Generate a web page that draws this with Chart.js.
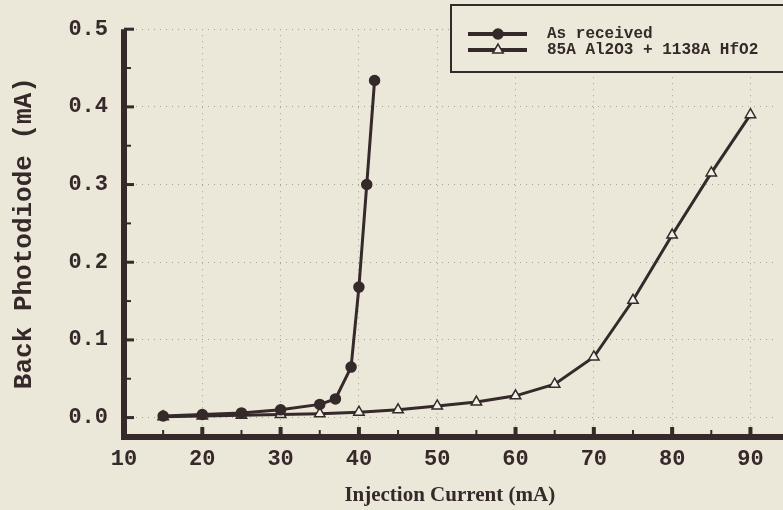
<!DOCTYPE html>
<html>
<head>
<meta charset="utf-8">
<script src="https://cdn.jsdelivr.net/npm/chart.js@4/dist/chart.umd.min.js"></script>
<style>
    html, body {margin: 0; background: #ebe7d9;}
    #wrap {width: 783px; height: 510px;}
</style>
</head>
<body>
<div id="wrap"><canvas id="chart"></canvas></div>
<script>
const currentReceived = [15, 20, 25, 30, 35, 37, 39, 40, 41, 42];
const photoReceived = [0.002, 0.004, 0.006, 0.010, 0.017, 0.024, 0.065, 0.168, 0.300, 0.434];
const currentCoated = [15, 20, 25, 30, 35, 40, 45, 50, 55, 60, 65, 70, 75, 80, 85, 90];
const photoCoated = [0.001, 0.002, 0.003, 0.004, 0.005, 0.007, 0.010, 0.015, 0.020, 0.028, 0.043, 0.078, 0.151, 0.235, 0.315, 0.390];
const xTicks = [10, 20, 30, 40, 50, 60, 70, 80, 90];
const yTicks = [0.0, 0.1, 0.2, 0.3, 0.4, 0.5];
const seriesNames = ['As received', '85A Al2O3 + 1138A HfO2'];

const ink = '#35292a';
const paper = '#f3f0e6';
const mono = '"Liberation Mono", "DejaVu Sans Mono", monospace';

const points = (xs, ys) => xs.map((x, i) => ({x, y: ys[i]}));
const midpoints = list => list.slice(1).map((v, i) => (v + list[i]) / 2);

const styles = [
    {pointStyle: 'circle', radius: 5, fill: ink},
    {pointStyle: 'triangle', radius: 6, fill: paper}
];

const frame = {
    id: 'frame',
    afterDatasetsDraw(chart) {
        const {ctx, chartArea: a, scales: {x, y}} = chart;
        ctx.save();
        ctx.strokeStyle = ink;
        ctx.lineWidth = 6;
        ctx.beginPath();
        ctx.moveTo(a.left, a.top);
        ctx.lineTo(a.left, a.bottom);
        ctx.lineTo(a.right + 10, a.bottom);
        ctx.stroke();

        const tick = (x0, y0, x1, y1, w) => {
            ctx.lineWidth = w;
            ctx.beginPath();
            ctx.moveTo(x0, y0);
            ctx.lineTo(x1, y1);
            ctx.stroke();
        };
        yTicks.forEach(v => { const p = y.getPixelForValue(v); tick(a.left, p, a.left + 10, p, 3); });
        midpoints(yTicks).forEach(v => { const p = y.getPixelForValue(v); tick(a.left, p, a.left + 7, p, 2); });
        xTicks.slice(1).forEach(v => { const p = x.getPixelForValue(v); tick(p, a.bottom, p, a.bottom - 10, 4); });
        midpoints(xTicks).forEach(v => { const p = x.getPixelForValue(v); tick(p, a.bottom, p, a.bottom - 7, 2); });
        ctx.restore();
    },
    afterDraw(chart) {
        const {ctx} = chart;
        ctx.save();
        ctx.fillStyle = '#ece8da';
        ctx.strokeStyle = ink;
        ctx.lineWidth = 2;
        ctx.fillRect(451, 5, 340, 67);
        ctx.strokeRect(451, 5, 340, 67);
        seriesNames.forEach((name, i) => {
            const yy = 34 + i * 16;
            ctx.strokeStyle = ink;
            ctx.lineWidth = 4;
            ctx.beginPath();
            ctx.moveTo(468, yy);
            ctx.lineTo(527, yy);
            ctx.stroke();
            ctx.fillStyle = styles[i].fill;
            ctx.lineWidth = 1.5;
            Chart.helpers.drawPoint(ctx, {pointStyle: styles[i].pointStyle, radius: styles[i].radius, borderWidth: 1.5, rotation: 0}, 498, yy);
            ctx.fillStyle = ink;
            ctx.font = 'bold 16px ' + mono;
            ctx.textBaseline = 'middle';
            ctx.fillText(name, 547, yy);
        });
        ctx.restore();
    }
};

const gridColor = '#a7a295';

new Chart(document.getElementById('chart'), {
    type: 'scatter',
    data: {
        datasets: [
            {label: seriesNames[0], data: points(currentReceived, photoReceived)},
            {label: seriesNames[1], data: points(currentCoated, photoCoated)}
        ].map((d, i) => Object.assign(d, {
            showLine: true,
            borderColor: ink,
            borderWidth: 3,
            pointStyle: styles[i].pointStyle,
            pointRadius: styles[i].radius,
            pointBackgroundColor: styles[i].fill,
            pointBorderColor: ink,
            pointBorderWidth: 1.5
        }))
    },
    options: {
        responsive: true,
        maintainAspectRatio: false,
        animation: false,
        layout: {padding: {top: 14, right: 3, left: 0, bottom: 0}},
        plugins: {legend: {display: false}, tooltip: {enabled: false}},
        scales: {
            x: {
                type: 'linear',
                min: 10,
                max: 93.2,
                afterBuildTicks: scale => { scale.ticks = xTicks.map(value => ({value})); },
                afterFit: scale => { scale.height = 73; },
                grid: {color: gridColor, lineWidth: 1, drawTicks: false},
                border: {display: false, dash: [1, 5]},
                ticks: {padding: 9, color: ink, font: {family: mono, size: 22, weight: 'bold'}},
                title: {
                    display: true,
                    text: 'Injection Current (mA)',
                    color: ink,
                    padding: {top: 0, bottom: 2},
                    font: {family: '"Liberation Serif", serif', size: 21, weight: 'bold'}
                }
            },
            y: {
                min: -0.025,
                max: 0.5,
                afterBuildTicks: scale => { scale.ticks = yTicks.map(value => ({value})); },
                afterFit: scale => { scale.width = 124; },
                grid: {color: gridColor, lineWidth: 1, drawTicks: false},
                border: {display: false, dash: [1, 5]},
                ticks: {padding: 16, color: ink, callback: v => v.toFixed(1), font: {family: mono, size: 22, weight: 'bold'}},
                title: {
                    display: true,
                    text: 'Back Photodiode (mA)',
                    color: ink,
                    padding: {top: 9, bottom: 0},
                    font: {family: mono, size: 26, weight: 'bold'}
                }
            }
        }
    },
    plugins: [frame]
});
</script>
</body>
</html>
